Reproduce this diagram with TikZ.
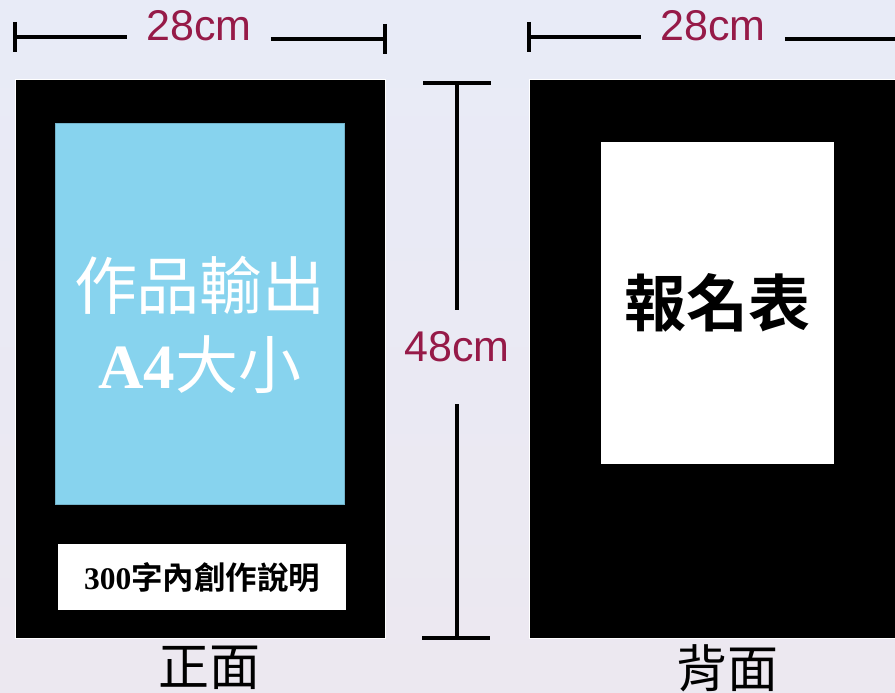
\documentclass[tikz,border=0pt]{standalone}
\usepackage{fontspec}
\setmainfont{Liberation Serif}
\newfontfamily\cjk{Noto Sans CJK TC}[BoldFont={Noto Sans CJK TC Bold}]
\newfontfamily\dimfont{Liberation Sans}
\usetikzlibrary{positioning}
\definecolor{dimred}{RGB}{150,26,72}
\definecolor{printblue}{RGB}{135,211,238}
\definecolor{bgtop}{RGB}{232,235,247}
\definecolor{bgbot}{RGB}{236,232,240}
\tikzset{board/.style={draw=white, line width=1pt, fill=black, anchor=north west, inner sep=0pt}}
\tikzstyle{sheet}=[fill=white, anchor=north west, inner sep=0pt]
\tikzstyle{dimline}=[line width=3.5pt, black]
\tikzstyle{dimtext}=[text=dimred, font=\dimfont\fontsize{43}{43}\selectfont, inner xsep=19pt, inner ysep=21.6pt]
\begin{document}
\begin{tikzpicture}[x=1pt, y=-1pt]
\clip (0,0) rectangle (895,693);
\shade[top color=bgtop, bottom color=bgbot] (0,0) rectangle (895,693);
% front side
\node[board, minimum width=370pt, minimum height=559pt] (front) at (15,79) {};
\node[draw=printblue!85!black, line width=0.6pt, fill=printblue, anchor=north west, minimum width=289pt, minimum height=381pt] (print) at (55,123) {};
\node[text=white, font=\cjk\fontsize{63}{79}\selectfont, align=center] (printText) at (200,325) {作品輸出\\{\rmfamily\bfseries A4}大小};
\node[sheet, minimum width=288pt, minimum height=66pt, font=\cjk\bfseries\fontsize{31.5}{31.5}\selectfont] (note) at (58,544) {{\rmfamily 300}字內創作說明};
\node[font=\cjk\fontsize{51}{51}\selectfont] (frontLabel) at (209,668) {正面};
% back side
\node[board, minimum width=380pt, minimum height=559pt] (back) at (529,79) {};
\node[sheet, minimum width=233pt, minimum height=322pt, font=\cjk\bfseries\fontsize{62}{62}\selectfont] (form) at (601,142) {報名表};
\node[font=\cjk\fontsize{51}{51}\selectfont] (backLabel) at (727,668) {背面};
% widths
\node[dimtext] (wFront) at (199,26) {28cm};
\coordinate (wFrontL) at (15,37);
\coordinate (wFrontR) at (385,39);
\draw[dimline] ([yshift=15pt]wFrontL) -- ([yshift=-15pt]wFrontL);
\draw[dimline] ([yshift=15pt]wFrontR) -- ([yshift=-15pt]wFrontR);
\draw[dimline] (wFrontL) -- (wFrontL -| wFront.west);
\draw[dimline] (wFront.east |- wFrontR) -- (wFrontR);
\node[dimtext] (wBack) at (713,26) {28cm};
\coordinate (wBackL) at (529,37);
\coordinate (wBackR) at (900,39);
\draw[dimline] ([yshift=15pt]wBackL) -- ([yshift=-15pt]wBackL);
\draw[dimline] (wBackL) -- (wBackL -| wBack.west);
\draw[dimline] (wBack.east |- wBackR) -- (wBackR);
% height
\node[dimtext] (hBoard) at (457,347) {48cm};
\coordinate (hTop) at (457,83);
\coordinate (hBot) at (457,638);
\draw[dimline] ([xshift=-34pt]hTop) -- ([xshift=34pt]hTop);
\draw[dimline] ([xshift=-35pt]hBot) -- ([xshift=33pt]hBot);
\draw[dimline] (hTop) -- (hBoard.north);
\draw[dimline] ([yshift=-20pt]hBoard.south) -- (hBot);
\end{tikzpicture}
\end{document}
